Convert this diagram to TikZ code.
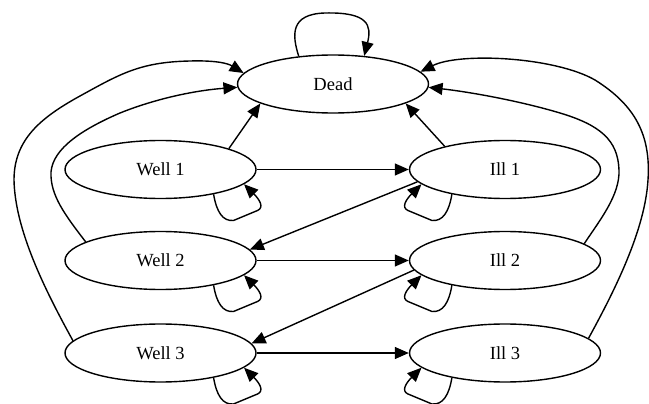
\documentclass[tikz,border=0pt]{standalone}
\usepackage{fontspec}
\setmainfont{Liberation Serif}
\usetikzlibrary{shapes.geometric,arrows.meta,calc}
\begin{document}
\begin{tikzpicture}[x=1pt,y=-1pt,
  state/.style={draw, ellipse, line width=1.4pt, minimum width=191pt,
    minimum height=58pt, inner sep=0pt, font=\fontsize{18.5}{20}\selectfont},
  edge/.style={line width=1.4pt, -{Triangle[length=14pt,width=12pt]}}]
\useasboundingbox (0,0) rectangle (649,404);

% states
\node[state] (dead) at (333,84) {Dead};
\node[state] (w1) at (160.5,169.5) {Well 1};
\node[state] (w2) at (160.5,260.5) {Well 2};
\node[state] (w3) at (160.5,353) {Well 3};
\node[state] (i1) at (505,169.5) {Ill 1};
\node[state] (i2) at (505,260.5) {Ill 2};
\node[state] (i3) at (505,353) {Ill 3};

% transitions between rows
\draw[edge] (w1.east) -- (i1.west);
\draw[edge] (w2.east) -- (i2.west);
\draw[edge] (w3.east) -- (i3.west);
\draw[edge] (i1.188) -- (w2.7);
\draw[edge] (i2.186) -- (w3.6.5);

% transitions to the absorbing state
\draw[edge] (w1.17.6) -- (dead.195);
\draw[edge] (i1.159.4) -- (dead.345);
\draw[edge] (w2.166.6) .. controls (65,215) and (50,195) .. (51,172)
  .. controls (53,148) and (83,129) .. (120,113)
  .. controls (160,97) and (200,90) .. (dead.182);
\draw[edge] (w3.172.2) .. controls (45,290) and (15,230) .. (14,180)
  .. controls (14,140) and (40,118) .. (80,96)
  .. controls (120,74) and (140,62) .. (190,61)
  .. controls (225,60) and (232,66) .. (dead.173);
\draw[edge] (i2.12.5) .. controls (600,220) and (620,195) .. (619,170)
  .. controls (618,140) and (600,125) .. (560,113)
  .. controls (520,101) and (470,92) .. (dead.358);
\draw[edge] (i3.10) .. controls (615,290) and (645,230) .. (648,180)
  .. controls (651,135) and (635,105) .. (595,80)
  .. controls (555,57) and (460,52) .. (dead.8);

% self loops
\draw[edge] (dead.141.5) .. controls (292,35) and (290,14) .. (325,13)
  .. controls (368,12) and (372,25) .. (dead.42.5);
\foreach \n in {w1,w2,w3}
  \draw[edge] (\n.335) .. controls ($(\n)+(56,42)$) and ($(\n)+(62,52)$) .. ($(\n)+(73,51)$)
    -- ($(\n)+(97,41)$) .. controls ($(\n)+(104,38)$) and ($(\n)+(99,30)$) .. (\n.350);
\foreach \n in {i1,i2,i3}
  \draw[edge] (\n.205) .. controls ($(\n)+(-56,42)$) and ($(\n)+(-62,52)$) .. ($(\n)+(-73,51)$)
    -- ($(\n)+(-97,41)$) .. controls ($(\n)+(-104,38)$) and ($(\n)+(-99,30)$) .. (\n.190);
\end{tikzpicture}
\end{document}
